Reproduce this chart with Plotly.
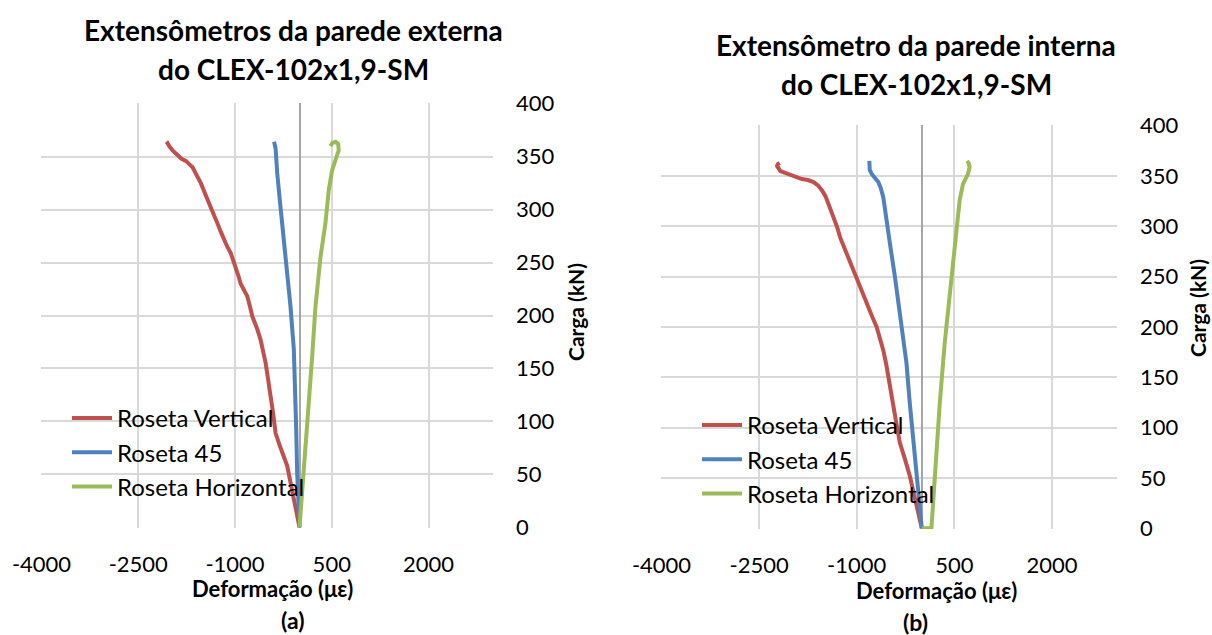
import plotly.graph_objects as go

# ---------------- data (a): parede externa ----------------
a_vert_x = [0, -88, -191, -300, -371, -410, -448, -490, -525, -560, -603, -660, -731, -770, -809, -860, -912, -950,
            -989, -1030, -1066, -1120, -1170, -1220, -1272, -1320, -1375, -1430, -1479, -1530, -1581, -1620,
            -1658, -1710, -1762, -1830, -1890, -1930, -1968, -2010, -2045, -2060, -2040]
a_vert_y = [0, 26, 58, 76, 89, 108, 127, 141, 155, 166, 177, 188, 199, 209, 218, 224, 230, 238,
            246, 253, 259, 265, 271, 279, 287, 295, 302, 310, 318, 325, 331, 336,
            340, 343, 346, 348, 351, 353, 356, 359, 362, 364, 363]
a_45_x = [0, -20, -36, -50, -62, -88, -139, -191, -242, -294, -345, -355, -371, -394, -385]
a_45_y = [0, 25, 51, 90, 130, 168, 208, 237, 271, 302, 334, 349, 358, 364, 362]
a_hor_x = [0, 67, 130, 196, 247, 325, 402, 453, 505, 556, 590, 608, 600, 560, 510, 480]
a_hor_y = [0, 51, 105, 161, 208, 255, 287, 318, 337, 346, 351, 356, 362, 364, 363, 360]

# ---------------- data (b): parede interna ----------------
b_vert_x = [0, -90, -184, -260, -337, -390, -439, -480, -516, -550, -592, -640, -694, -760, -822, -890, -949,
            -1000, -1051, -1100, -1153, -1200, -1255, -1300, -1357, -1400, -1434, -1480, -1536, -1600,
            -1663, -1750, -1842, -1930, -2020, -2100, -2173, -2224, -2210, -2184]
b_vert_y = [0, 26, 52, 69, 85, 104, 124, 138, 151, 164, 177, 189, 200, 210, 220, 231, 240,
            248, 256, 265, 273, 281, 289, 299, 309, 316, 322, 330, 336, 341,
            344, 346, 347, 349, 351, 353, 355, 360, 362, 363]
b_45_x = [0, -40, -82, -133, -184, -235, -286, -337, -413, -490, -541, -592, -630, -668, -720, -770, -800, -806, -806]
b_45_y = [0, 26, 52, 85, 124, 164, 190, 217, 250, 283, 306, 329, 338, 344, 348, 352, 356, 360, 365]
b_hor_x = [0, 75, 148, 175, 199, 276, 352, 429, 505, 582, 633, 690, 710, 735, 720, 694]
b_hor_y = [0, 0, 0, 26, 52, 124, 184, 233, 283, 326, 342, 348, 352, 359, 363, 365]

series_names = ["Roseta Vertical", "Roseta 45", "Roseta Horizontal"]
series_colors = ["#C0504D", "#4F81BD", "#9BBB59"]

x_tick_vals = [-4000, -2500, -1000, 500, 2000]
x_tick_text = ["-4000", "-2500", "-1000", "500", "2000"]
y_tick_vals = [0, 50, 100, 150, 200, 250, 300, 350, 400]
y_tick_text = ["0", "50", "100", "150", "200", "250", "300", "350", "400"]

title_a = ["Extensômetros da parede externa", "do CLEX-102x1,9-SM"]
title_b = ["Extensômetro da parede interna", "do CLEX-102x1,9-SM"]
captions = ["(a)", "(b)"]
x_title = "Deformação (με)"
y_title = "Carga (kN)"

FONT = "Lato"
W, H = 1212, 635

fig = go.Figure()

panels = [
    ([a_vert_x, a_45_x, a_hor_x], [a_vert_y, a_45_y, a_hor_y], "x", "y", "legend"),
    ([b_vert_x, b_45_x, b_hor_x], [b_vert_y, b_45_y, b_hor_y], "x2", "y2", "legend2"),
]
for xs, ys, xa, ya, lg in panels:
    for xv, yv, name, col in zip(xs, ys, series_names, series_colors):
        fig.add_trace(go.Scatter(x=xv, y=yv, mode="lines", name=name, xaxis=xa, yaxis=ya,
                                 legend=lg, line=dict(color=col, width=4)))

def px_x(p):
    return p / W

def px_y(p):
    return 1 - p / H

grid = "#D9D9D9"
xcommon = dict(range=[-4008, 3000], tickmode="array", tickvals=x_tick_vals, ticktext=x_tick_text,
               showgrid=True, gridcolor=grid, gridwidth=1.5,
               zeroline=True, zerolinecolor="#A6A6A6", zerolinewidth=1.5,
               showline=False, ticks="", ticklabelstandoff=21, automargin=False,
               tickfont=dict(family=FONT, size=22, color="#000"))
ycommon = dict(range=[-0.7, 400.7], tickmode="array", tickvals=y_tick_vals, ticktext=y_tick_text,
               showgrid=True, gridcolor=grid, gridwidth=1.5, zeroline=False,
               showline=False, ticks="", side="right", ticklabelstandoff=22, automargin=False,
               tickfont=dict(family=FONT, size=22, color="#000"))

fig.update_layout(
    width=W, height=H, margin=dict(l=0, r=0, t=0, b=0, autoexpand=False),
    paper_bgcolor="white", plot_bgcolor="white",
    font=dict(family=FONT, color="#000"),
    xaxis=dict(domain=[px_x(41), px_x(493)], anchor="y", **xcommon),
    yaxis=dict(domain=[px_y(528), px_y(103)], anchor="x", **ycommon),
    xaxis2=dict(domain=[px_x(661), px_x(1117)], anchor="y2", **xcommon),
    yaxis2=dict(domain=[px_y(529), px_y(125)], anchor="x2", **ycommon),
    legend=dict(x=px_x(67), y=px_y(396), xanchor="left", yanchor="top",
                bgcolor="rgba(0,0,0,0)", font=dict(family=FONT, size=24, color="#000"),
                tracegroupgap=0, itemwidth=40),
    legend2=dict(x=px_x(697), y=px_y(403), xanchor="left", yanchor="top",
                 bgcolor="rgba(0,0,0,0)", font=dict(family=FONT, size=24, color="#000"),
                 tracegroupgap=0, itemwidth=40),
    showlegend=True,
)

ann = []
# titles (one annotation per line)
ann.append(dict(text="<b>%s</b>" % title_a[0], x=px_x(293), y=px_y(30), font=dict(size=28)))
ann.append(dict(text="<b>%s</b>" % title_a[1], x=px_x(293), y=px_y(69), font=dict(size=28)))
ann.append(dict(text="<b>%s</b>" % title_b[0], x=px_x(916), y=px_y(45), font=dict(size=28)))
ann.append(dict(text="<b>%s</b>" % title_b[1], x=px_x(916), y=px_y(84), font=dict(size=28)))
# x titles
ann.append(dict(text="<b>%s</b>" % x_title, x=px_x(272), y=px_y(588), font=dict(size=22)))
ann.append(dict(text="<b>%s</b>" % x_title, x=px_x(936), y=px_y(590), font=dict(size=22)))
# captions
ann.append(dict(text="<b>%s</b>" % captions[0], x=px_x(292), y=px_y(620), font=dict(size=23)))
ann.append(dict(text="<b>%s</b>" % captions[1], x=px_x(915), y=px_y(622), font=dict(size=23)))
# y titles
ann.append(dict(text="<b>%s</b>" % y_title, x=px_x(575), y=px_y(312), textangle=-90, font=dict(size=21)))
ann.append(dict(text="<b>%s</b>" % y_title, x=px_x(1198), y=px_y(308), textangle=-90, font=dict(size=21)))
for a in ann:
    a.update(xref="paper", yref="paper", showarrow=False, xanchor="center", yanchor="middle")
    a["font"].update(family=FONT, color="#000")
fig.update_layout(annotations=ann)

fig.write_html("out.html", config={"displayModeBar": False},
               post_script="document.body.style.margin='0';")
